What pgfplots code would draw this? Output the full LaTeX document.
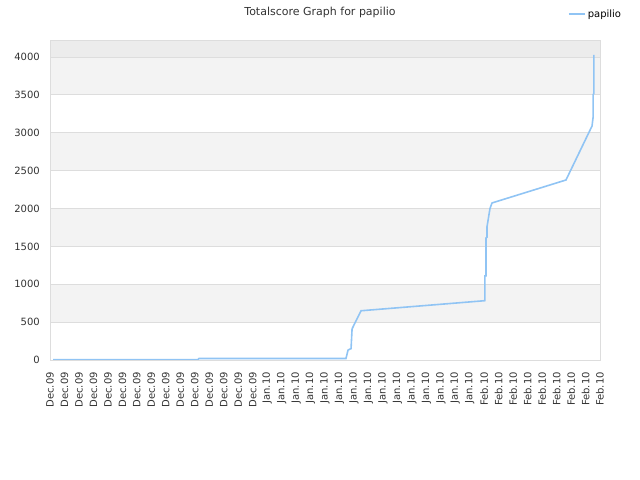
\documentclass[border=0pt]{standalone}
\usepackage{pgfplots}
\pgfplotsset{compat=1.18}
\usepackage{fontspec}
\setmainfont{DejaVu Sans}
\definecolor{linec}{RGB}{144,196,244}
\definecolor{bandg}{RGB}{243,243,243}
\definecolor{topg}{RGB}{236,236,236}
\definecolor{gridc}{RGB}{221,221,221}
\definecolor{txtc}{RGB}{51,51,51}
\begin{document}
\begin{tikzpicture}
\path (0,0) rectangle (640bp,480bp);
\node[font=\fontsize{11bp}{13bp}\selectfont, text=txtc] at (320bp,468bp) {Totalscore Graph for papilio};
\begin{axis}[
  set layers,
  at={(50bp,120bp)}, anchor=south west,
  scale only axis, width=550bp, height=320bp,
  xmin=0, xmax=38, ymin=0, ymax=4224,
  xtick={0,...,38},
  xticklabels={Dec.09,Dec.09,Dec.09,Dec.09,Dec.09,Dec.09,Dec.09,Dec.09,Dec.09,Dec.09,Dec.09,Dec.09,Dec.09,Dec.09,Dec.09,Jan.10,Jan.10,Jan.10,Jan.10,Jan.10,Jan.10,Jan.10,Jan.10,Jan.10,Jan.10,Jan.10,Jan.10,Jan.10,Jan.10,Jan.10,Feb.10,Feb.10,Feb.10,Feb.10,Feb.10,Feb.10,Feb.10,Feb.10,Feb.10},
  xticklabel style={rotate=90, anchor=east, font=\fontsize{10bp}{12bp}\selectfont, text=txtc, inner sep=0pt},
  yticklabel style={font=\fontsize{10bp}{12bp}\selectfont, text=txtc, inner sep=0pt},
  ytick={0,500,...,4000},
  /pgf/number format/assume math mode=true,
  scaled y ticks=false,
  yticklabel={\pgfmathprintnumber[int detect,1000 sep={}]{\tick}},
  major tick length=0pt,
  xtick pos=bottom, ytick pos=left,
  xticklabel shift=12bp,
  yticklabel shift=10bp,
  ymajorgrids, grid style={gridc, line width=0.8bp},
  axis line style={gridc, line width=0.8bp},
  legend style={at={(axis description cs:0.9418,1.081)}, anchor=west, draw=none, fill=none, font=\fontsize{10bp}{12bp}\selectfont, inner sep=0pt, text=black},
  legend image code/.code={\draw[#1] (0bp,0bp) -- (10bp,0bp); \path (0bp,0bp) -- (16bp,0bp);},
  legend cell align=left,
]
\addplot[on layer=axis background, fill=topg, draw=none, forget plot] coordinates {(0,4000) (38,4000) (38,4224) (0,4224)} -- cycle;
\addplot[on layer=axis background, fill=bandg, draw=none, forget plot] coordinates {(0,3500) (38,3500) (38,4000) (0,4000)} -- cycle;
\addplot[on layer=axis background, fill=bandg, draw=none, forget plot] coordinates {(0,2500) (38,2500) (38,3000) (0,3000)} -- cycle;
\addplot[on layer=axis background, fill=bandg, draw=none, forget plot] coordinates {(0,1500) (38,1500) (38,2000) (0,2000)} -- cycle;
\addplot[on layer=axis background, fill=bandg, draw=none, forget plot] coordinates {(0,500) (38,500) (38,1000) (0,1000)} -- cycle;
\addplot[linec, line width=1.6bp] coordinates {
(0.21,5) (10.22,5) (10.29,20) (20.45,20) (20.59,130) (20.73,145) (20.80,150) (20.87,410) (21.07,490) (21.28,570) (21.49,650)
(30.05,783) (30.05,1109) (30.12,1110) (30.12,1610) (30.19,1620) (30.19,1756) (30.40,2000) (30.54,2073)
(35.65,2376) (37.45,3089) (37.52,3200) (37.52,3500) (37.58,3520) (37.58,4026)
};
\addlegendentry{papilio}
\end{axis}
\end{tikzpicture}
\end{document}
